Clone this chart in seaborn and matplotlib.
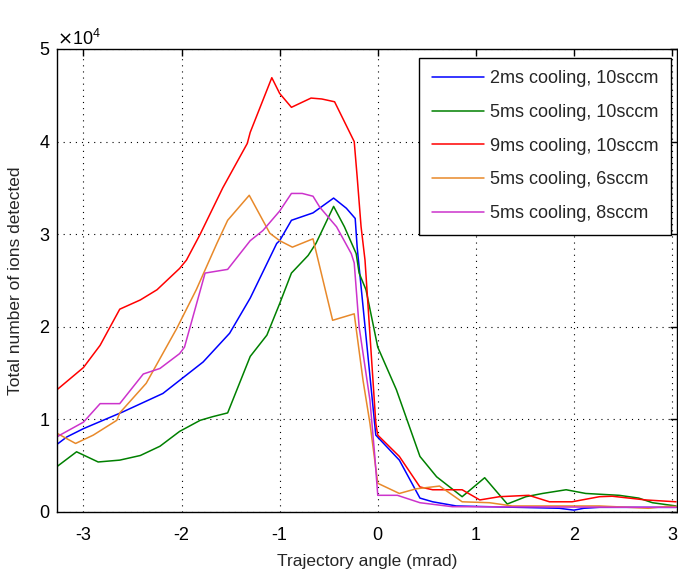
import numpy as np
import pandas as pd
import matplotlib
matplotlib.use("Agg")
import matplotlib.pyplot as plt
import matplotlib.ticker as mticker
import seaborn as sns

labels = ["2ms cooling, 10sccm", "5ms cooling, 10sccm", "9ms cooling, 10sccm",
          "5ms cooling, 6sccm", "5ms cooling, 8sccm"]
colors = ["#0000FF", "#008000", "#FF0000", "#E8892A", "#CC33CC"]

x_blue = [-3.27, -3.17, -3.00, -2.60, -2.19, -1.78, -1.51, -1.30, -1.03, -1.00, -0.88, -0.66,
          -0.45, -0.32, -0.23, -0.21, -0.02, 0.22, 0.43, 0.56, 0.80, 1.85, 2.00, 2.10, 2.26, 3.04]
y_blue = [0.73, 0.81, 0.90, 1.08, 1.28, 1.62, 1.93, 2.31, 2.90, 2.93, 3.15, 3.23,
          3.39, 3.28, 3.17, 2.86, 0.83, 0.56, 0.15, 0.11, 0.065, 0.04, 0.02, 0.04, 0.05, 0.05]

x_green = [-3.27, -3.07, -2.85, -2.63, -2.42, -2.22, -2.02, -1.81, -1.68, -1.53, -1.30, -1.13,
           -1.00, -0.88, -0.71, -0.63, -0.45, -0.34, -0.22, -0.19, -0.12, 0.00, 0.19, 0.43,
           0.60, 0.86, 1.09, 1.32, 1.51, 1.68, 1.92, 2.12, 2.46, 2.66, 2.80, 3.04]
y_green = [0.49, 0.65, 0.54, 0.56, 0.61, 0.71, 0.87, 0.99, 1.03, 1.07, 1.68, 1.91,
           2.25, 2.58, 2.77, 2.90, 3.30, 3.08, 2.79, 2.58, 2.40, 1.78, 1.32, 0.60,
           0.38, 0.165, 0.37, 0.086, 0.165, 0.20, 0.24, 0.20, 0.18, 0.15, 0.10, 0.065]

x_red = [-3.27, -3.00, -2.83, -2.63, -2.42, -2.25, -2.02, -1.95, -1.81, -1.58, -1.33, -1.30,
         -1.08, -1.00, -0.88, -0.68, -0.57, -0.44, -0.24, -0.21, -0.17, -0.13, -0.02, 0.00,
         0.22, 0.43, 0.56, 0.86, 1.04, 1.24, 1.54, 1.75, 1.98, 2.26, 2.39, 2.73, 3.04]
y_red = [1.32, 1.56, 1.80, 2.19, 2.29, 2.40, 2.63, 2.72, 3.00, 3.50, 3.98, 4.10,
         4.69, 4.52, 4.37, 4.47, 4.46, 4.43, 4.00, 3.62, 3.08, 2.72, 0.96, 0.83,
         0.60, 0.27, 0.24, 0.24, 0.13, 0.165, 0.18, 0.11, 0.11, 0.165, 0.17, 0.13, 0.11]

x_orange = [-3.27, -3.08, -2.90, -2.66, -2.63, -2.36, -2.05, -1.85, -1.64, -1.53, -1.31, -1.10,
            -1.00, -0.87, -0.66, -0.46, -0.24, -0.15, -0.08, 0.00, 0.22, 0.39, 0.63, 0.86,
            1.14, 1.37, 2.26, 2.76, 2.94, 3.04]
y_orange = [0.85, 0.74, 0.83, 0.99, 1.07, 1.39, 1.98, 2.40, 2.90, 3.15, 3.42, 3.01,
            2.93, 2.86, 2.95, 2.07, 2.14, 1.42, 0.96, 0.31, 0.20, 0.25, 0.28, 0.11,
            0.10, 0.065, 0.065, 0.04, 0.06, 0.06]

x_magenta = [-3.27, -3.24, -3.00, -2.83, -2.63, -2.39, -2.22, -2.02, -1.97, -1.76, -1.53, -1.30,
             -1.17, -1.00, -0.88, -0.77, -0.66, -0.59, -0.42, -0.27, -0.24, -0.19, -0.08, -0.03,
             0.00, 0.20, 0.43, 0.76, 3.04]
y_magenta = [0.81, 0.83, 0.97, 1.17, 1.17, 1.49, 1.55, 1.71, 1.78, 2.58, 2.62, 2.93,
             3.04, 3.25, 3.44, 3.44, 3.41, 3.29, 3.08, 2.79, 2.69, 2.00, 1.21, 0.60,
             0.18, 0.18, 0.10, 0.057, 0.05]

xs = [x_blue, x_green, x_red, x_orange, x_magenta]
ys = [y_blue, y_green, y_red, y_orange, y_magenta]

frames = []
for lab, xv, yv in zip(labels, xs, ys):
    frames.append(pd.DataFrame({"angle": xv, "ions": np.array(yv) * 1e4,
                                "series": lab}))
df = pd.concat(frames, ignore_index=True)

sns.set_style("white")
plt.rcParams["font.family"] = ["Liberation Sans", "DejaVu Sans"]
plt.rcParams["axes.unicode_minus"] = False

fig = plt.figure(figsize=(6.78, 5.75), dpi=100)
ax = fig.add_axes([0.084, 0.1096, 0.9145, 0.8052])

sns.lineplot(data=df, x="angle", y="ions", hue="series", hue_order=labels,
             palette=dict(zip(labels, colors)), sort=False, estimator=None,
             units="series", linewidth=1.1, ax=ax)

ax.set_xlim(-3.27, 3.05)
ax.set_ylim(0, 5e4)
ax.set_xticks([-3, -2, -1, 0, 1, 2, 3])
ax.set_yticks([0, 1e4, 2e4, 3e4, 4e4, 5e4])
fmt = mticker.ScalarFormatter(useMathText=True)
fmt.set_powerlimits((0, 0))
ax.yaxis.set_major_formatter(fmt)
ax.yaxis.get_offset_text().set_fontsize(13)

ax.grid(True, color="black", linestyle=(0, (1, 4.5)), linewidth=0.8)
for s in ax.spines.values():
    s.set_color("black")
    s.set_linewidth(1.0)
ax.tick_params(direction="in", top=True, right=True, length=5, width=1,
               labelsize=13, colors="black")
ax.tick_params(axis="x", pad=11)
ax.tick_params(axis="y", pad=5)

ax.set_xlabel("Trajectory angle (mrad)", fontsize=12.5, labelpad=7)
ax.set_ylabel("Total number of ions detected", fontsize=12.5, labelpad=11)

leg = ax.legend(loc="upper right", bbox_to_anchor=(0.990, 0.981), fontsize=13,
                frameon=True, fancybox=False, edgecolor="black", framealpha=1,
                handlelength=2.9, labelspacing=0.92, borderpad=0.7, handletextpad=0.3,
                borderaxespad=0)
leg.get_frame().set_linewidth(1.0)

fig.savefig("out.png", dpi=100)
